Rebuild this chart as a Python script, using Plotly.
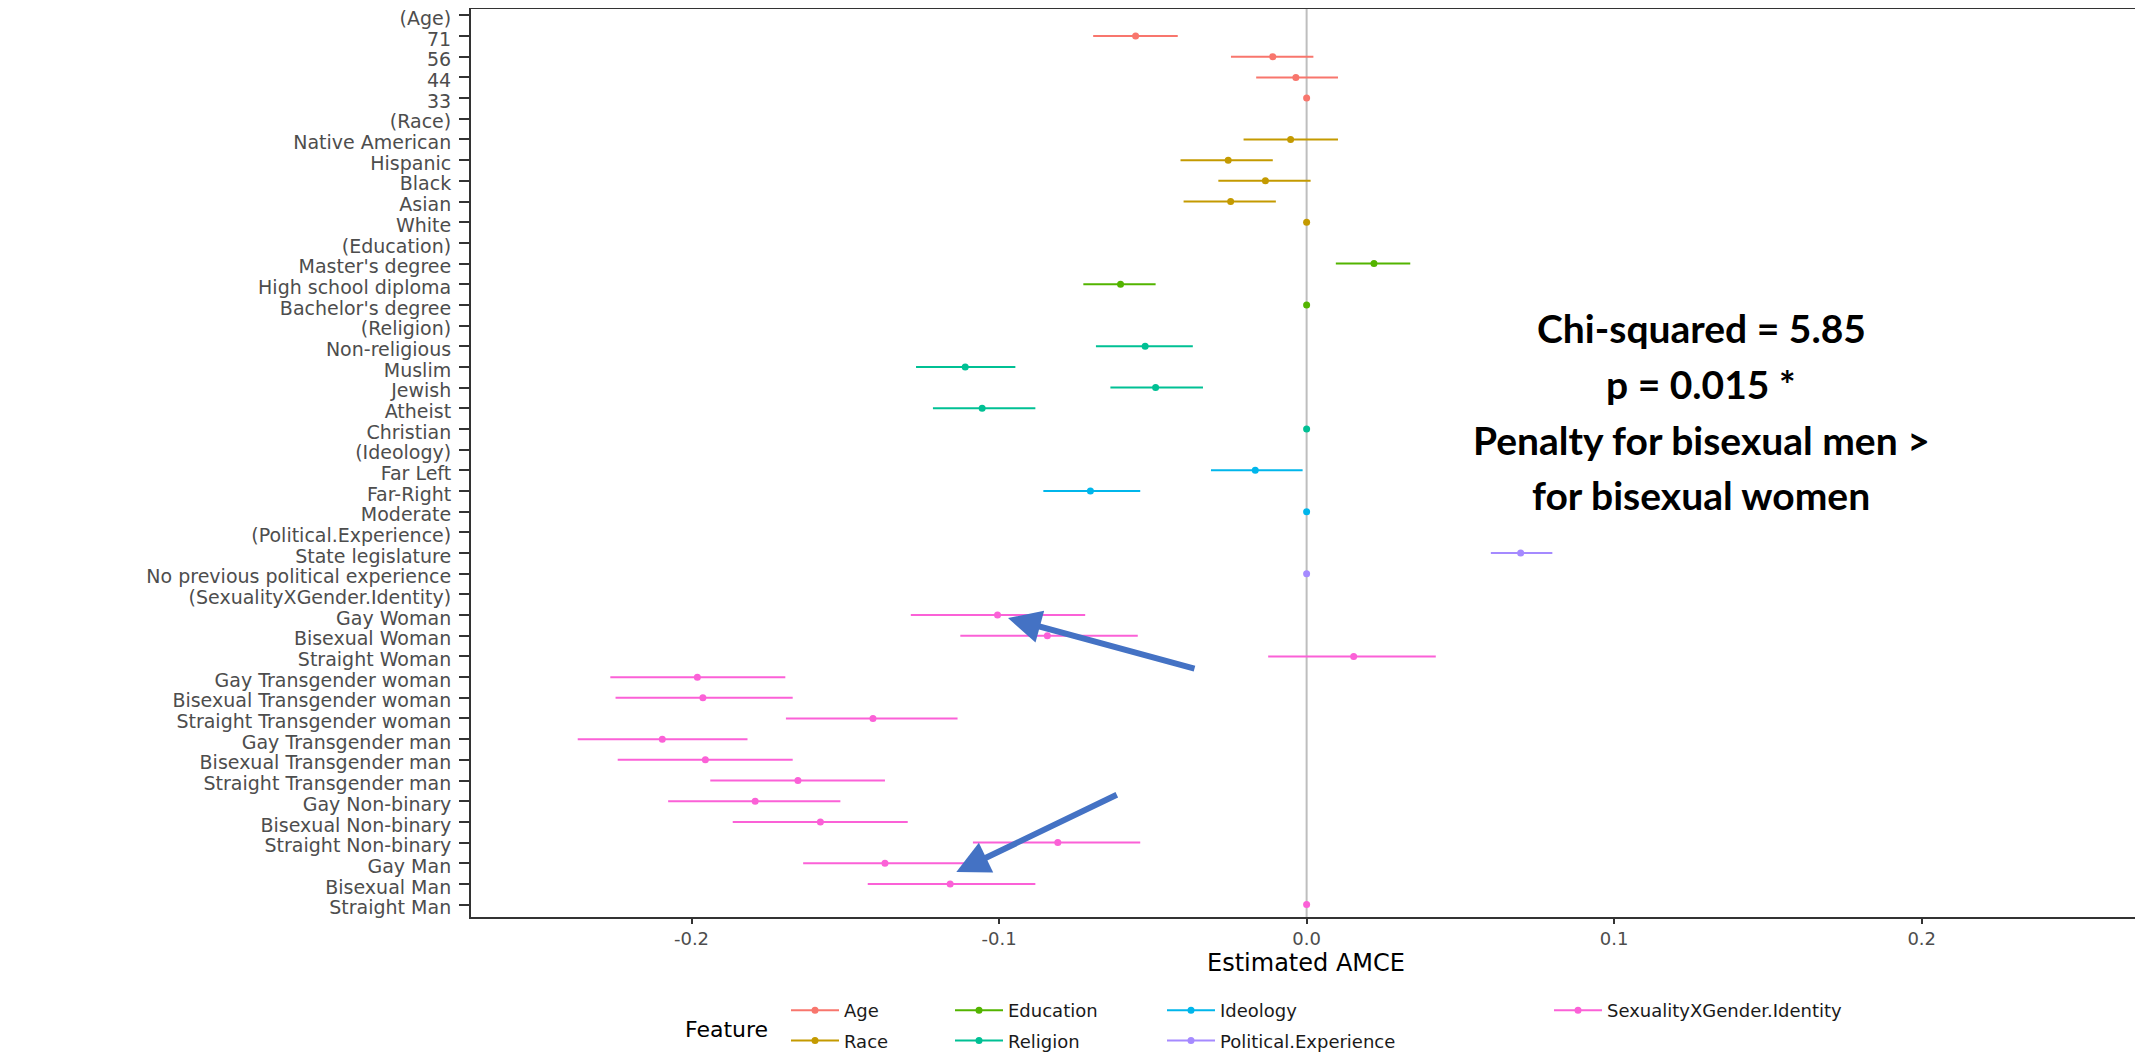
import plotly.graph_objects as go

# ---------------- data ----------------
features = ["Age", "Race", "Education", "Religion", "Ideology",
            "Political.Experience", "SexualityXGender.Identity"]
feature_colors = ["#F8766D", "#C49A00", "#53B400", "#00C094",
                  "#00B6EB", "#A58AFF", "#FB61D7"]

age_levels = ["71", "56", "44", "33"]
age_est = [-0.0556, -0.0110, -0.0035, 0.0]
age_lo = [-0.0694, -0.0246, -0.0164, 0.0]
age_hi = [-0.0419, 0.0022, 0.0102, 0.0]

race_levels = ["Native American", "Hispanic", "Black", "Asian", "White"]
race_est = [-0.0052, -0.0255, -0.0134, -0.0247, 0.0]
race_lo = [-0.0205, -0.0410, -0.0287, -0.0400, 0.0]
race_hi = [0.0102, -0.0110, 0.0013, -0.0100, 0.0]

edu_levels = ["Master's degree", "High school diploma", "Bachelor's degree"]
edu_est = [0.0219, -0.0605, 0.0]
edu_lo = [0.0095, -0.0726, 0.0]
edu_hi = [0.0337, -0.0491, 0.0]

rel_levels = ["Non-religious", "Muslim", "Jewish", "Atheist", "Christian"]
rel_est = [-0.0525, -0.1110, -0.0491, -0.1055, 0.0]
rel_lo = [-0.0685, -0.1270, -0.0638, -0.1215, 0.0]
rel_hi = [-0.0370, -0.0947, -0.0337, -0.0882, 0.0]

ideo_levels = ["Far Left", "Far-Right", "Moderate"]
ideo_est = [-0.0167, -0.0703, 0.0]
ideo_lo = [-0.0311, -0.0856, 0.0]
ideo_hi = [-0.0013, -0.0541, 0.0]

pol_levels = ["State legislature", "No previous political experience"]
pol_est = [0.0696, 0.0]
pol_lo = [0.0599, 0.0]
pol_hi = [0.0799, 0.0]

sex_levels = ["Gay Woman", "Bisexual Woman", "Straight Woman",
              "Gay Transgender woman", "Bisexual Transgender woman",
              "Straight Transgender woman", "Gay Transgender man",
              "Bisexual Transgender man", "Straight Transgender man",
              "Gay Non-binary", "Bisexual Non-binary", "Straight Non-binary",
              "Gay Man", "Bisexual Man", "Straight Man"]
sex_est = [-0.1005, -0.0843, 0.0153, -0.1981, -0.1963, -0.1410, -0.2095,
           -0.1955, -0.1654, -0.1793, -0.1581, -0.0809, -0.1371, -0.1159, 0.0]
sex_lo = [-0.1287, -0.1126, -0.0125, -0.2264, -0.2247, -0.1693, -0.2370,
          -0.2240, -0.1939, -0.2076, -0.1866, -0.1085, -0.1637, -0.1427, 0.0]
sex_hi = [-0.0720, -0.0549, 0.0420, -0.1695, -0.1671, -0.1135, -0.1818,
          -0.1671, -0.1371, -0.1516, -0.1297, -0.0541, -0.1105, -0.0882, 0.0]

x_ticks = [-0.2, -0.1, 0.0, 0.1, 0.2]
x_ticklabels = ["-0.2", "-0.1", "0.0", "0.1", "0.2"]

annotation_lines = ["Chi-squared = 5.85", "p = 0.015 *",
                    "Penalty for bisexual men >", "for bisexual women"]

# ---------------- build ----------------
groups = [
    (age_levels, age_est, age_lo, age_hi),
    (race_levels, race_est, race_lo, race_hi),
    (edu_levels, edu_est, edu_lo, edu_hi),
    (rel_levels, rel_est, rel_lo, rel_hi),
    (ideo_levels, ideo_est, ideo_lo, ideo_hi),
    (pol_levels, pol_est, pol_lo, pol_hi),
    (sex_levels, sex_est, sex_lo, sex_hi),
]
legend_ids = ["legend", "legend", "legend2", "legend2", "legend3", "legend3", "legend4"]

category_order = []
for feat, (levels, *_rest) in zip(features, groups):
    category_order.append("(" + feat + ")")
    category_order.extend(levels)

FONT = "DejaVu Sans"
fig = go.Figure()

fig.add_vline(x=0, line_color="#BEBEBE", line_width=2, layer="below")

for feat, col, leg, (levels, est, lo, hi) in zip(features, feature_colors, legend_ids, groups):
    xs, ys, plus, minus = [], [], [], []
    for lev, e, l, h in zip(levels, est, lo, hi):
        xs += [e, None]
        ys += [lev, None]
        plus += [h - e, 0]
        minus += [e - l, 0]
    fig.add_trace(go.Scatter(
        x=xs, y=ys, mode="lines+markers", name=feat,
        legend=leg, legendgroup=feat,
        line=dict(color=col, width=2),
        marker=dict(color=col, size=7),
        connectgaps=False,
        error_x=dict(type="data", symmetric=False, array=plus, arrayminus=minus,
                     color=col, thickness=2, width=0),
        hoverinfo="x+y",
    ))

# page body has an 8px margin: figure is placed at (8, 8) in the window
OFF = 8
W, H = 2143 - OFF, 1055 - OFF
L, R, T, B = 471 - OFF, 2, 1, 138
PW, PH = W - L - R, H - T - B
ROW_TOP = -0.6 + (T + OFF - 3) / 20.68


def px_x(px):
    return (px - OFF - L) / PW


def px_y(py):
    return (H - B - (py - OFF)) / PH


legend_common = dict(orientation="v", xanchor="left", yanchor="top",
                     bgcolor="rgba(0,0,0,0)", itemwidth=48, tracegroupgap=4,
                     font=dict(family=FONT, size=18, color="#1A1A1A"),
                     itemclick=False, itemdoubleclick=False)
leg_top = px_y(992)
fig.update_layout(
    legend=dict(x=px_x(786), y=leg_top, **legend_common),
    legend2=dict(x=px_x(950), y=leg_top, **legend_common),
    legend3=dict(x=px_x(1162), y=leg_top, **legend_common),
    legend4=dict(x=px_x(1549), y=leg_top, **legend_common),
)

fig.update_layout(
    width=W, height=H,
    margin=dict(l=L, r=R, t=T, b=B, autoexpand=False),
    paper_bgcolor="white", plot_bgcolor="white",
    showlegend=True,
    xaxis=dict(
        range=[-0.2717, 0.2713], tickvals=x_ticks, ticktext=x_ticklabels,
        showgrid=False, zeroline=False,
        showline=True, mirror=True, linecolor="#333333", linewidth=1.5,
        ticks="outside", ticklen=5, tickwidth=1.5, tickcolor="#333333",
        tickfont=dict(family=FONT, size=18, color="#4D4D4D"),
        title=dict(text="Estimated AMCE", standoff=2,
                   font=dict(family=FONT, size=24, color="#000000")),
    ),
    yaxis=dict(
        type="category", categoryorder="array", categoryarray=category_order,
        tickvals=category_order, range=[len(category_order) - 0.4, ROW_TOP],
        showgrid=False, zeroline=False,
        showline=True, mirror=True, linecolor="#333333", linewidth=2,
        ticks="outside", ticklen=10, tickwidth=1.5, tickcolor="#333333",
        ticklabelstandoff=4, ticklabelshift=-3,
        tickfont=dict(family=FONT, size=19, color="#4D4D4D"),
    ),
)

# legend title
fig.add_annotation(text="Feature", xref="paper", yref="paper",
                   x=px_x(726), y=px_y(1029), xanchor="center", yanchor="middle",
                   showarrow=False, font=dict(family=FONT, size=22, color="#000000"))

# test result text
line_centres = [328, 384, 440, 495]
for txt, yc in zip(annotation_lines, line_centres):
    fig.add_annotation(text="<b>" + txt + "</b>", xref="paper", yref="paper",
                       x=px_x(1701), y=px_y(yc), xanchor="center", yanchor="middle",
                       showarrow=False,
                       font=dict(family="Lato", size=39, color="#000000"))

# arrows
arrow_style = dict(showarrow=True, arrowhead=2, arrowsize=1.1, arrowwidth=6,
                   arrowcolor="#4472C4", axref="pixel", ayref="pixel", text="",
                   standoff=0)
fig.add_annotation(x=-0.0971, y=px_y(618), xref="x", yref="paper",
                   ax=188, ay=51, **arrow_style)
fig.add_annotation(x=-0.1139, y=px_y(872), xref="x", yref="paper",
                   ax=162, ay=-78, **arrow_style)

fig.write_html("out.html")
